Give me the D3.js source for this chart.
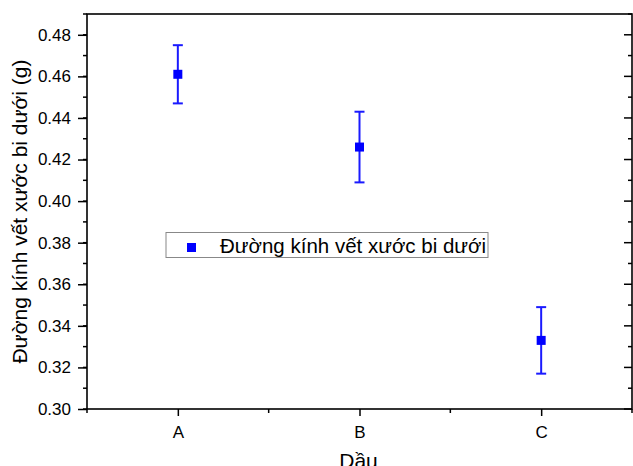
<!DOCTYPE html>
<html>
<head>
<meta charset="utf-8">
<script src="https://cdn.jsdelivr.net/npm/d3@7"></script>
<style>
  body { margin: 0; background: #fff; }
  text { font-family: "Liberation Sans", Arial, sans-serif; }
</style>
</head>
<body>
<div id="chart"></div>
<script>
// Dữ liệu
const categories = ["A", "B", "C"];
const means = [0.461, 0.426, 0.333];
const errors = [0.014, 0.017, 0.016];
const yTicks = [0.30, 0.32, 0.34, 0.36, 0.38, 0.40, 0.42, 0.44, 0.46, 0.48];
const seriesName = "Đường kính vết xước bi dưới";

const width = 633, height = 466;
const margin = { top: 14, right: 1, bottom: 57, left: 87 };
const x0 = margin.left, x1 = width - margin.right;
const y0 = height - margin.bottom, y1 = margin.top;

const svg = d3.select("#chart").append("svg")
    .attr("width", width)
    .attr("height", height);

const x = d3.scalePoint().domain(categories).range([x0, x1]).padding(0.5);
const y = d3.scaleLinear().domain([0.30, 0.49]).range([y0, y1]);

const minorY = d3.range(0.30, 0.4901, 0.01);

// khung
svg.append("rect")
    .attr("x", x0).attr("y", y1)
    .attr("width", x1 - x0).attr("height", y0 - y1)
    .attr("fill", "none").attr("stroke", "#000").attr("stroke-width", 1.6);

// trục trái
const left = svg.append("g").attr("transform", `translate(${x0},0)`);
left.selectAll(".minor").data(minorY).enter().append("line")
    .attr("x1", -4).attr("x2", 0)
    .attr("y1", d => y(d)).attr("y2", d => y(d))
    .attr("stroke", "#000").attr("stroke-width", 1.5);
left.call(d3.axisLeft(y).tickValues(yTicks).tickFormat(d3.format(".2f")).tickSize(9).tickPadding(7))
    .call(g => g.select(".domain").remove())
    .call(g => g.selectAll("line").attr("stroke-width", 1.5))
    .call(g => g.selectAll("text").attr("font-size", 17).attr("fill", "#000"));

// trục phải (vạch hướng vào trong)
const right = svg.append("g").attr("transform", `translate(${x1},0)`);
right.selectAll("line").data(minorY).enter().append("line")
    .attr("x1", (d, i) => i % 2 === 0 ? -8 : -4).attr("x2", 0)
    .attr("y1", d => y(d)).attr("y2", d => y(d))
    .attr("stroke", "#000").attr("stroke-width", 1.5);

// trục dưới
const minorX = [x0, (x("A") + x("B")) / 2, (x("B") + x("C")) / 2, x1];
const bottom = svg.append("g").attr("transform", `translate(0,${y0})`);
bottom.selectAll(".minor").data(minorX).enter().append("line")
    .attr("x1", d => d).attr("x2", d => d)
    .attr("y1", 0).attr("y2", 4)
    .attr("stroke", "#000").attr("stroke-width", 1.5);
bottom.call(d3.axisBottom(x).tickSize(7).tickPadding(10))
    .call(g => g.select(".domain").remove())
    .call(g => g.selectAll("line").attr("stroke-width", 1.5))
    .call(g => g.selectAll("text").attr("font-size", 17).attr("fill", "#000"));

// tiêu đề trục
svg.append("text")
    .attr("x", (x0 + x1) / 2 - 1).attr("y", 468)
    .attr("text-anchor", "middle").attr("font-size", 21)
    .text("Dầu");
svg.append("text")
    .attr("transform", `translate(27,${(y0 + y1) / 2}) rotate(-90)`)
    .attr("text-anchor", "middle").attr("font-size", 21)
    .text("Đường kính vết xước bi dưới (g)");

// thanh sai số
const pts = categories.map((c, i) => ({ c, m: means[i], e: errors[i] }));
const eb = svg.append("g").attr("stroke", "#1a1aff").attr("stroke-width", 2);
eb.selectAll(".v").data(pts).enter().append("line")
    .attr("x1", d => x(d.c)).attr("x2", d => x(d.c))
    .attr("y1", d => y(d.m + d.e)).attr("y2", d => y(d.m - d.e));
eb.selectAll(".t").data(pts).enter().append("line")
    .attr("x1", d => x(d.c) - 5).attr("x2", d => x(d.c) + 5)
    .attr("y1", d => y(d.m + d.e)).attr("y2", d => y(d.m + d.e));
eb.selectAll(".b").data(pts).enter().append("line")
    .attr("x1", d => x(d.c) - 5).attr("x2", d => x(d.c) + 5)
    .attr("y1", d => y(d.m - d.e)).attr("y2", d => y(d.m - d.e));

svg.selectAll(".pt").data(pts).enter().append("rect")
    .attr("x", d => x(d.c) - 4.5).attr("y", d => y(d.m) - 4.5)
    .attr("width", 9).attr("height", 9)
    .attr("fill", "#0000ff");

// chú giải
const lg = svg.append("g");
lg.append("rect")
    .attr("x", 166).attr("y", 232.5).attr("width", 322).attr("height", 25)
    .attr("fill", "#fff").attr("stroke", "#888").attr("stroke-width", 1);
lg.append("rect")
    .attr("x", 187).attr("y", 243).attr("width", 9).attr("height", 9)
    .attr("fill", "#0000ff");
lg.append("text")
    .attr("x", 220).attr("y", 253).attr("font-size", 20.5)
    .text(seriesName);
</script>
</body>
</html>
